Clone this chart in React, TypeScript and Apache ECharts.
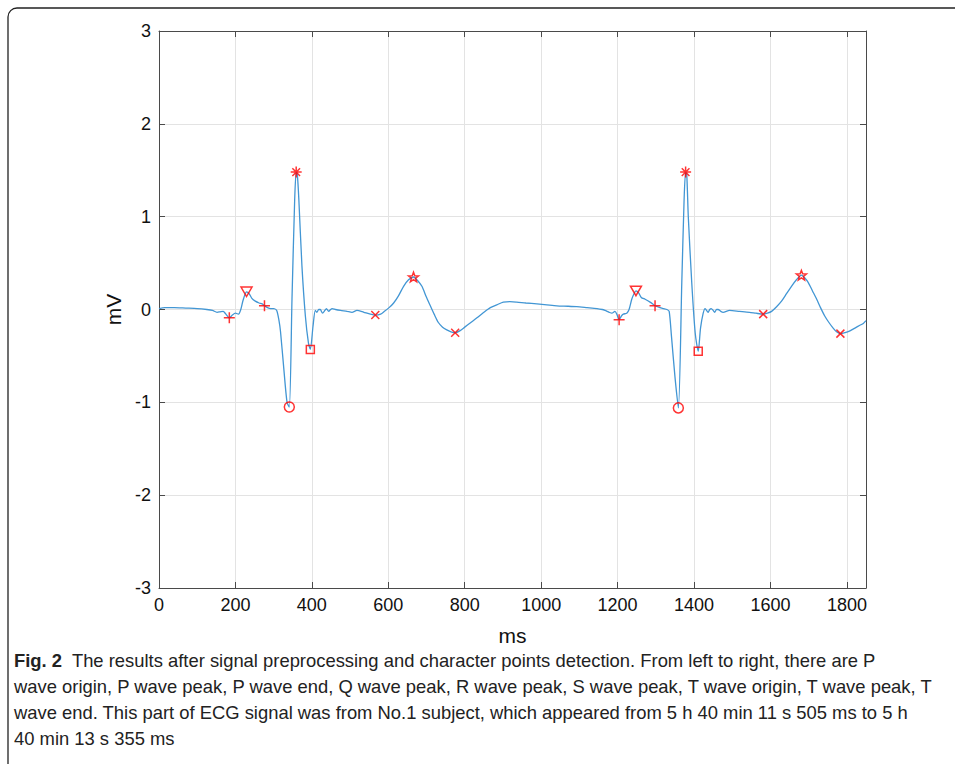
import React, { useEffect, useRef } from "react";
import * as echarts from "echarts";

// ECG signal (ms, mV)
const signalMs = [
  0, 15, 40, 70, 100, 125, 140, 152, 160, 168, 175, 184, 192, 200, 208, 214, 220, 229, 236, 243,
  252, 262, 270, 276, 284, 292, 300, 308, 314, 318, 326, 335, 341, 348, 355, 359, 362, 366, 374, 383,
  391, 396, 403, 409, 413, 418, 422, 428, 434, 438, 444, 449, 453, 462, 475, 492, 505, 518, 536, 553,
  566, 580, 590, 602, 614, 627, 640, 653, 666, 677, 688, 699, 710, 720, 731, 742, 753, 764, 775, 787,
  800, 816, 832, 850, 867, 884, 901, 918, 936, 960, 989, 1015, 1041, 1070, 1093, 1120, 1146, 1160, 1167, 1178,
  1185, 1193, 1198, 1204, 1210, 1215, 1224, 1230, 1237, 1243, 1248, 1255, 1262, 1272, 1285, 1292, 1298, 1311, 1320, 1329,
  1335, 1341, 1350, 1359, 1368, 1374, 1378, 1381, 1385, 1394, 1403, 1411, 1417, 1424, 1429, 1437, 1441, 1445, 1450, 1454,
  1459, 1463, 1470, 1476, 1493, 1519, 1545, 1562, 1581, 1592, 1603, 1616, 1629, 1642, 1655, 1668, 1681, 1690, 1699, 1710,
  1721, 1731, 1742, 1753, 1764, 1773, 1783, 1795, 1808, 1821, 1834, 1843, 1850,
];
const signalMv = [
  0.01, 0.02, 0.02, 0.015, 0.01, 0.0, -0.01, -0.03, -0.025, -0.02, -0.05, -0.09, -0.06, -0.04, -0.05, 0.0, 0.1, 0.19, 0.17, 0.12,
  0.09, 0.07, 0.06, 0.04, 0.02, 0.01, 0.01, -0.01, -0.12, -0.24, -0.61, -1.0, -1.05, 0.11, 1.18, 1.48, 1.45, 1.18, 0.47, -0.07,
  -0.36, -0.43, -0.18, -0.01, -0.03, 0.0, 0.0, -0.04, -0.01, 0.01, -0.02, 0.0, 0.01, 0.0, -0.01, -0.02, -0.03, -0.01, -0.03, -0.05,
  -0.06, -0.05, -0.02, 0.02, 0.07, 0.15, 0.25, 0.32, 0.35, 0.31, 0.25, 0.14, 0.04, -0.05, -0.14, -0.19, -0.22, -0.24, -0.25, -0.23,
  -0.19, -0.14, -0.09, -0.03, 0.02, 0.05, 0.08, 0.085, 0.08, 0.07, 0.06, 0.05, 0.04, 0.035, 0.03, 0.02, 0.01, 0.0, -0.01, -0.03,
  -0.04, -0.02, -0.05, -0.11, -0.07, -0.05, -0.04, 0.0, 0.11, 0.17, 0.2, 0.18, 0.13, 0.11, 0.08, 0.06, 0.04, 0.02, 0.01, 0.0,
  -0.02, -0.29, -0.72, -1.06, 0.29, 1.18, 1.48, 1.45, 1.0, 0.29, -0.25, -0.45, -0.2, -0.04, 0.01, -0.03, 0.0, 0.01, -0.01, -0.03,
  0.0, 0.0, -0.02, -0.03, -0.01, -0.02, -0.03, -0.04, -0.05, -0.04, -0.02, 0.03, 0.09, 0.17, 0.25, 0.32, 0.37, 0.34, 0.29, 0.2,
  0.11, 0.02, -0.07, -0.14, -0.2, -0.24, -0.26, -0.25, -0.23, -0.2, -0.17, -0.15, -0.12,
];

// Character points (ms, mV)
const pWaveOrigin = [[184, -0.09], [1204, -0.11]];
const pWavePeak = [[229, 0.19], [1248, 0.2]];
const pWaveEnd = [[276, 0.04], [1298, 0.04]];
const qWavePeak = [[341, -1.05], [1359, -1.06]];
const rWavePeak = [[359, 1.48], [1378, 1.48]];
const sWavePeak = [[396, -0.43], [1411, -0.45]];
const tWaveOrigin = [[566, -0.06], [1581, -0.05]];
const tWavePeak = [[666, 0.35], [1681, 0.37]];
const tWaveEnd = [[775, -0.25], [1783, -0.26]];

const captionLines = [
  "{b|Fig. 2}  The results after signal preprocessing and character points detection. From left to right, there are P",
  "wave origin, P wave peak, P wave end, Q wave peak, R wave peak, S wave peak, T wave origin, T wave peak, T",
  "wave end. This part of ECG signal was from No.1 subject, which appeared from 5 h 40 min 11 s 505 ms to 5 h",
  "40 min 13 s 355 ms",
];

const PLUS = "path://M0,5L10,5M5,0L5,10";
const CROSS = "path://M0,0L10,10M10,0L0,10";
const ASTER = "path://M0,5L10,5M5,0L5,10M1.5,1.5L8.5,8.5M8.5,1.5L1.5,8.5";
const TRI_DOWN = "path://M0,0L10,0L5,8.66Z";
const STAR = (() => {
  const pts: string[] = [];
  for (let i = 0; i < 10; i++) {
    const r = i % 2 === 0 ? 5 : 2.1;
    const a = -Math.PI / 2 + (i * Math.PI) / 5;
    pts.push(`${(5 + r * Math.cos(a)).toFixed(3)},${(5 + r * Math.sin(a)).toFixed(3)}`);
  }
  return "path://M" + pts.join("L") + "Z";
})();

const RED = "#ff0000";
const FONT = "'Liberation Sans', Arial, Helvetica, sans-serif";
const CAP_SIZE = 18.4;

function markerSeries(name: string, data: number[][], symbol: string, size: number) {
  return {
    name,
    type: "scatter",
    data,
    symbol,
    symbolSize: size,
    symbolKeepAspect: true,
    itemStyle: { color: "rgba(255,255,255,0)", borderColor: RED, borderWidth: 1.5 },
    z: 5,
  };
}

export default function App() {
  const ref = useRef<HTMLDivElement>(null);
  useEffect(() => {
    if (!ref.current) return;
    const chart = echarts.init(ref.current, undefined, { renderer: "svg" });
    const signal = signalMs.map((x, i) => [x, signalMv[i]]);
    const axisColor = "#4a4a4a";
    const grid = { left: 159, right: 89, top: 31, bottom: 176 };
    chart.setOption({
      animation: false,
      backgroundColor: "#ffffff",
      grid,
      xAxis: [
        {
          type: "value",
          min: 0,
          max: 1850,
          interval: 200,
          name: "ms",
          nameLocation: "middle",
          nameGap: 37,
          nameTextStyle: { fontSize: 21, color: "#111", fontFamily: FONT },
          axisLine: { show: true, onZero: false, lineStyle: { color: axisColor, width: 1 } },
          axisTick: { show: true, inside: true, length: 6, lineStyle: { color: axisColor } },
          axisLabel: {
            fontSize: 18,
            color: "#111",
            fontFamily: FONT,
            margin: 8,
            showMaxLabel: false,
            formatter: (v: number) => String(v),
          },
          splitLine: { show: true, lineStyle: { color: "#e3e3e3", width: 1 } },
        },
        {
          type: "value",
          position: "top",
          min: 0,
          max: 1850,
          interval: 200,
          axisLine: { show: true, onZero: false, lineStyle: { color: axisColor, width: 1 } },
          axisTick: { show: true, inside: true, length: 6, lineStyle: { color: axisColor } },
          axisLabel: { show: false },
          splitLine: { show: false },
        },
      ],
      yAxis: [
        {
          type: "value",
          min: -3,
          max: 3,
          interval: 1,
          name: "mV",
          nameLocation: "middle",
          nameGap: 35,
          nameTextStyle: { fontSize: 21, color: "#111", fontFamily: FONT },
          axisLine: { show: true, onZero: false, lineStyle: { color: axisColor, width: 1 } },
          axisTick: { show: true, inside: true, length: 6, lineStyle: { color: axisColor } },
          axisLabel: { fontSize: 18, color: "#111", fontFamily: FONT, margin: 8 },
          splitLine: { show: true, lineStyle: { color: "#e3e3e3", width: 1 } },
        },
        {
          type: "value",
          position: "right",
          min: -3,
          max: 3,
          interval: 1,
          axisLine: { show: true, onZero: false, lineStyle: { color: axisColor, width: 1 } },
          axisTick: { show: true, inside: true, length: 6, lineStyle: { color: axisColor } },
          axisLabel: { show: false },
          splitLine: { show: false },
        },
      ],
      series: [
        {
          name: "ECG",
          type: "line",
          data: signal,
          showSymbol: false,
          symbol: "none",
          smooth: 0.25,
          lineStyle: { color: "#4296d4", width: 1.3 },
          z: 3,
        },
        markerSeries("P wave origin", pWaveOrigin, PLUS, 11),
        markerSeries("P wave peak", pWavePeak, TRI_DOWN, 11),
        markerSeries("P wave end", pWaveEnd, PLUS, 11),
        markerSeries("Q wave peak", qWavePeak, "circle", 10),
        markerSeries("R wave peak", rWavePeak, ASTER, 11),
        markerSeries("S wave peak", sWavePeak, "rect", 8),
        markerSeries("T wave origin", tWaveOrigin, CROSS, 8),
        markerSeries("T wave peak", tWavePeak, STAR, 10),
        markerSeries("T wave end", tWaveEnd, CROSS, 8),
      ],
      graphic: [
        {
          type: "rect",
          shape: { x: 8, y: 8, width: 1000, height: 770, r: 9 },
          style: { fill: "none", stroke: "#222", lineWidth: 1.3 },
          silent: true,
        },
        ...captionLines.map((t, i) => ({
          type: "text",
          left: 14,
          top: 651 + i * 26.3,
          style: {
            text: t,
            fontSize: CAP_SIZE,
            fontFamily: FONT,
            fill: "#222",
            rich: {
              b: { fontSize: CAP_SIZE, fontWeight: "bold", fontFamily: FONT, fill: "#222" },
            },
          },
        })),
      ],
    });
    return () => chart.dispose();
  }, []);
  return (
    <div
      ref={ref}
      style={{ position: "fixed", left: 0, top: 0, width: 955, height: 764, background: "#fff" }}
    />
  );
}
